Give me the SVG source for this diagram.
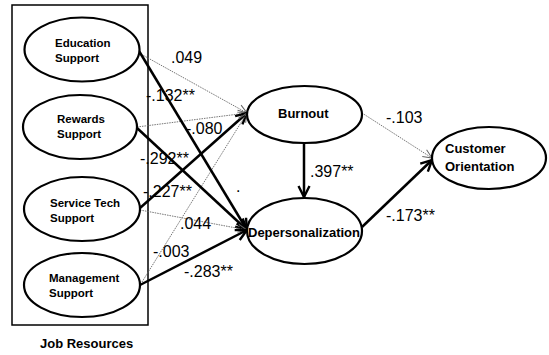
<svg xmlns="http://www.w3.org/2000/svg" width="549" height="355" viewBox="0 0 549 355">
<defs>
<style>
.node{fill:#fff;stroke:#000;stroke-width:2.2}
.box{fill:none;stroke:#000;stroke-width:1.5}
.nt{font-family:"Liberation Sans",Arial,sans-serif;font-weight:bold;font-size:11.5px;fill:#000}
.bt{font-family:"Liberation Sans",Arial,sans-serif;font-weight:bold;font-size:13px;fill:#000}
.lb{font-family:"Liberation Sans",Arial,sans-serif;font-size:16px;fill:#000}
.thick{stroke:#000;stroke-width:2.5;fill:none}
.thin{stroke:#666;stroke-width:0.9;stroke-dasharray:1.5 1;fill:none}
</style>
<marker id="ah" markerUnits="userSpaceOnUse" markerWidth="14" markerHeight="14" viewBox="0 0 14 14" refX="12" refY="7" orient="auto">
<path d="M1,1.5 L12,7 L1,12.5" fill="none" stroke="#000" stroke-width="2.4"/>
</marker>
<marker id="ahs" markerUnits="userSpaceOnUse" markerWidth="12" markerHeight="12" viewBox="0 0 12 12" refX="10" refY="6" orient="auto">
<path d="M1,2 L10,6 L1,10" fill="none" stroke="#666" stroke-width="1"/>
</marker>
</defs>
<rect width="549" height="355" fill="#fff"/>
<rect class="box" x="12" y="5" width="136" height="320"/>
<g id="connectors">
<line class="thin" x1="139" y1="53" x2="247" y2="113" marker-end="url(#ahs)"/>
<line class="thin" x1="137" y1="127" x2="247" y2="113" marker-end="url(#ahs)"/>
<line class="thick" x1="140" y1="208" x2="247" y2="113" marker-end="url(#ah)"/>
<line class="thin" x1="142" y1="282" x2="247" y2="113" marker-end="url(#ahs)"/>
<line class="thick" x1="139" y1="51" x2="247" y2="230" marker-end="url(#ah)"/>
<line class="thick" x1="137" y1="128" x2="247" y2="230" marker-end="url(#ah)"/>
<line class="thin" x1="140" y1="210" x2="247" y2="230" marker-end="url(#ahs)"/>
<line class="thick" x1="140" y1="285" x2="247" y2="230" marker-end="url(#ah)"/>
<line class="thick" x1="304" y1="143" x2="304" y2="197" marker-end="url(#ah)"/>
<line class="thin" x1="362" y1="113" x2="432" y2="158" marker-end="url(#ahs)"/>
<line class="thick" x1="362" y1="227" x2="432" y2="160" marker-end="url(#ah)"/>
</g>
<g id="edu"><ellipse class="node" cx="82" cy="49.5" rx="57.5" ry="32"/><text class="nt" x="55" y="47">Education</text><text class="nt" x="55" y="62">Support</text></g>
<g id="rew"><ellipse class="node" cx="80" cy="127" rx="57" ry="32"/><text class="nt" x="57" y="123">Rewards</text><text class="nt" x="57" y="138">Support</text></g>
<g id="svc"><ellipse class="node" cx="82" cy="209" rx="58" ry="32"/><text class="nt" x="50" y="207">Service Tech</text><text class="nt" x="50" y="222">Support</text></g>
<g id="mgmt"><ellipse class="node" cx="82" cy="285" rx="58" ry="32"/><text class="nt" x="49" y="282">Management</text><text class="nt" x="49" y="297">Support</text></g>
<g id="burnout"><ellipse class="node" cx="304.5" cy="114.5" rx="57.5" ry="28.5"/><text class="bt" x="278" y="118">Burnout</text></g>
<g id="depers"><ellipse class="node" cx="304.5" cy="231" rx="57.5" ry="33"/><text class="bt" x="248" y="237">Depersonalization</text></g>
<g id="cust"><ellipse class="node" cx="489" cy="158" rx="57" ry="31"/><text class="bt" x="445" y="153">Customer</text><text class="bt" x="445" y="171">Orientation</text></g>
<g id="labels">
<text class="lb" x="171" y="63">.049</text>
<text class="lb" x="146" y="101">-.132**</text>
<text class="lb" x="186" y="134">-.080</text>
<text class="lb" x="140" y="164">-.292**</text>
<text class="lb" x="143" y="197">-.227**</text>
<text class="lb" x="236" y="192">.</text>
<text class="lb" x="180" y="229">.044</text>
<text class="lb" x="153" y="257">-.003</text>
<text class="lb" x="184" y="277">-.283**</text>
<text class="lb" x="386" y="123">-.103</text>
<text class="lb" x="310" y="177">.397**</text>
<text class="lb" x="386" y="221">-.173**</text>
<text class="bt" x="40" y="348">Job Resources</text>
</g>
</svg>
